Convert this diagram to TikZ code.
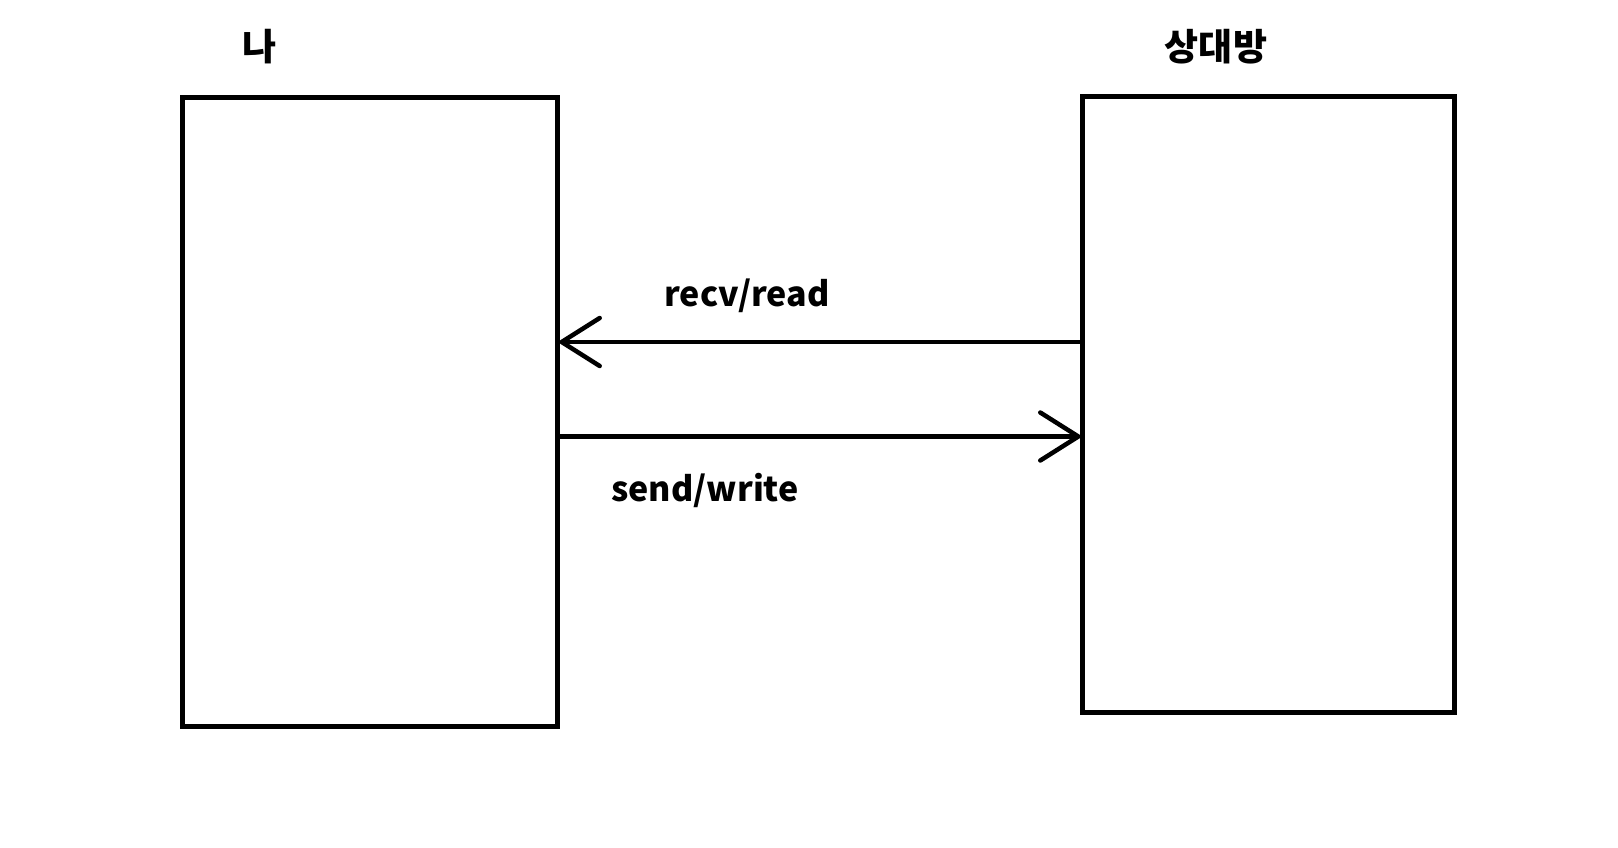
\documentclass[tikz,border=0pt]{standalone}
\usepackage{fontspec}
\newfontfamily\kr{Noto Sans CJK KR}
\usetikzlibrary{arrows.meta}
\begin{document}
\begin{tikzpicture}[x=1pt,y=-1pt,
  box/.style={draw,line width=5pt,rectangle,inner sep=0pt,outer sep=0pt},
  lbl/.style={font=\kr\bfseries\fontsize{34}{40}\selectfont,inner sep=0pt},
  klbl/.style={font=\kr\bfseries\fontsize{37}{44}\selectfont,inner sep=0pt},
  conn/.style={line width=4.5pt,line cap=round,-{Straight Barb[length=38pt,width=48pt,line cap=round]}}]
\useasboundingbox (0,0) rectangle (1618,847);
\fill[white] (0,0) rectangle (1618,847);
\node[box,minimum width=375pt,minimum height=628.5pt] (L) at (370,411.75) {};
\node[box,minimum width=372pt,minimum height=616.5pt] (R) at (1268.5,404.25) {};
\node[klbl] (me) at (260,47) {나};
\node[klbl] (peer) at (1216,47) {상대방};
\coordinate (ry) at (0,342);
\coordinate (sy) at (0,436.5);
\draw[conn] (R.west |- ry) -- (L.east |- ry);
\draw[conn] (L.east |- sy) -- (R.west |- sy);
\node[lbl] (recv) at (747,296) {recv/read};
\node[lbl] (send) at (705,490) {send/write};
\end{tikzpicture}
\end{document}
